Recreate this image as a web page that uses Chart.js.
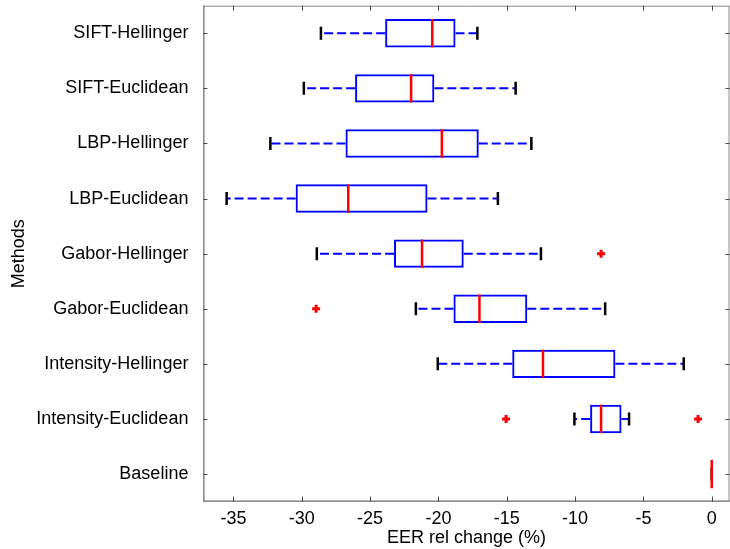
<!DOCTYPE html>
<html>
<head>
<meta charset="utf-8">
<script src="https://cdn.jsdelivr.net/npm/chart.js@4"></script>
<style>
  body { margin: 0; background: #fff; }
</style>
</head>
<body>
<canvas id="eerBoxChart" width="730" height="549"></canvas>
<script>
// data
const methods = ['SIFT-Hellinger', 'SIFT-Euclidean', 'LBP-Hellinger', 'LBP-Euclidean',
                 'Gabor-Hellinger', 'Gabor-Euclidean', 'Intensity-Hellinger',
                 'Intensity-Euclidean', 'Baseline'];
const whiskerLow  = [-28.6, -29.85, -32.3, -35.5, -28.9, -21.65, -20.05, -10.05, 0];
const q1          = [-23.9, -26.1, -26.8, -30.45, -23.25, -18.9, -14.6, -8.9, 0];
const medians     = [-20.45, -22.0, -19.75, -26.6, -21.2, -17.0, -12.35, -8.1, 0];
const q3          = [-18.75, -20.3, -17.05, -20.8, -18.15, -13.5, -7.05, -6.6, 0];
const whiskerHigh = [-17.15, -14.35, -13.2, -15.65, -12.5, -7.8, -2.05, -6.05, 0];
const outlierMethods = ['Gabor-Hellinger', 'Gabor-Euclidean', 'Intensity-Euclidean', 'Intensity-Euclidean'];
const outlierValues  = [-8.1, -28.95, -15.05, -1.0];
const xTicks = [-35, -30, -25, -20, -15, -10, -5, 0];

Chart.defaults.font.family = 'Liberation Sans, Arial, sans-serif';
Chart.defaults.font.size = 18;
Chart.defaults.color = '#000';

// whiskers, caps and medians
const boxExtras = {
    id: 'boxExtras',
    afterDatasetsDraw(chart) {
        const ctx = chart.ctx;
        const x = chart.scales.x, y = chart.scales.y;
        const bars = chart.getDatasetMeta(0).data;
        ctx.save();
        for (let i = 0; i < methods.length; i++) {
            const yc = y.getPixelForValue(i);
            const half = bars[i].height / 2;
            const xl = x.getPixelForValue(whiskerLow[i]);
            const xa = x.getPixelForValue(q1[i]);
            const xb = x.getPixelForValue(q3[i]);
            const xh = x.getPixelForValue(whiskerHigh[i]);
            const xm = x.getPixelForValue(medians[i]);

            ctx.setLineDash([9, 4]);
            ctx.strokeStyle = '#0000ff';
            ctx.lineWidth = 2;
            if (xa - xl > 1) {
                ctx.beginPath(); ctx.moveTo(xa, yc); ctx.lineTo(xl, yc); ctx.stroke();
            }
            if (xh - xb > 1) {
                ctx.beginPath(); ctx.moveTo(xb, yc); ctx.lineTo(xh, yc); ctx.stroke();
            }
            ctx.setLineDash([]);

            ctx.strokeStyle = '#000';
            ctx.lineWidth = 2.5;
            ctx.beginPath();
            ctx.moveTo(xl, yc - 6.5); ctx.lineTo(xl, yc + 6.5);
            ctx.moveTo(xh, yc - 6.5); ctx.lineTo(xh, yc + 6.5);
            ctx.stroke();

            ctx.strokeStyle = '#ff0000';
            ctx.lineWidth = 2.5;
            ctx.beginPath();
            ctx.moveTo(xm, yc - half); ctx.lineTo(xm, yc + half);
            ctx.stroke();
        }
        ctx.restore();
    }
};

// axes box with inward ticks
const axesFrame = {
    id: 'axesFrame',
    afterDraw(chart) {
        const ctx = chart.ctx;
        const {left, right, top, bottom} = chart.chartArea;
        const x = chart.scales.x, y = chart.scales.y;
        ctx.save();
        ctx.lineWidth = 1;
        ctx.strokeStyle = '#8c8c8c';
        ctx.beginPath();
        ctx.moveTo(left, top + 0.5); ctx.lineTo(right, top + 0.5);
        ctx.moveTo(right - 0.5, top); ctx.lineTo(right - 0.5, bottom);
        ctx.stroke();
        ctx.strokeStyle = '#444';
        ctx.beginPath();
        ctx.moveTo(left + 0.5, top); ctx.lineTo(left + 0.5, bottom);
        ctx.moveTo(left, bottom - 0.5); ctx.lineTo(right, bottom - 0.5);
        ctx.stroke();
        ctx.beginPath();
        xTicks.forEach(v => {
            const px = Math.round(x.getPixelForValue(v)) + 0.5;
            ctx.moveTo(px, bottom); ctx.lineTo(px, bottom - 5);
            ctx.moveTo(px, top); ctx.lineTo(px, top + 5);
        });
        methods.forEach((m, i) => {
            const py = Math.round(y.getPixelForValue(i)) + 0.5;
            ctx.moveTo(left, py); ctx.lineTo(left + 4, py);
            ctx.moveTo(right, py); ctx.lineTo(right - 4, py);
        });
        ctx.stroke();
        ctx.restore();
    }
};

const ctx = document.getElementById('eerBoxChart').getContext('2d');

new Chart(ctx, {
    data: {
        labels: methods,
        datasets: [{
            type: 'bar',
            label: 'Interquartile range',
            data: methods.map((m, i) => [q1[i], q3[i]]),
            borderColor: '#0000ff',
            backgroundColor: 'rgba(0,0,0,0)',
            borderWidth: 2,
            borderSkipped: false,
            barPercentage: 0.515,
            categoryPercentage: 1
        }, {
            type: 'scatter',
            label: 'Outliers',
            data: outlierMethods.map((m, i) => ({x: outlierValues[i], y: m})),
            pointStyle: 'cross',
            radius: 4,
            borderColor: '#ff0000',
            backgroundColor: '#ff0000',
            borderWidth: 3
        }]
    },
    options: {
        indexAxis: 'y',
        responsive: false,
        devicePixelRatio: 1,
        animation: false,
        layout: { autoPadding: false, padding: { top: 5.7, right: 0.5, left: 0, bottom: 0 } },
        plugins: {
            legend: { display: false },
            tooltip: { enabled: false }
        },
        scales: {
            x: {
                type: 'linear',
                position: 'bottom',
                min: -37.2,
                max: 1.3,
                grid: { display: false, drawTicks: false },
                border: { display: false },
                ticks: { padding: 7, color: '#000' },
                afterBuildTicks: s => { s.ticks = xTicks.map(v => ({value: v})); },
                afterFit: s => { s.height = 47.4; s.paddingLeft = 0; s.paddingRight = 0; },
                title: {
                    display: true,
                    text: 'EER rel change (%)',
                    color: '#000',
                    padding: { top: 0, bottom: 0 }
                }
            },
            y: {
                type: 'category',
                labels: methods,
                offset: true,
                grid: { display: false, drawTicks: false },
                border: { display: false },
                ticks: { padding: 15, color: '#000' },
                afterFit: s => { s.width = 203.4; s.paddingTop = 0; s.paddingBottom = 0; },
                title: {
                    display: true,
                    text: 'Methods',
                    color: '#000',
                    padding: { top: 8, bottom: 0 }
                }
            }
        }
    },
    plugins: [boxExtras, axesFrame]
});
</script>
</body>
</html>
